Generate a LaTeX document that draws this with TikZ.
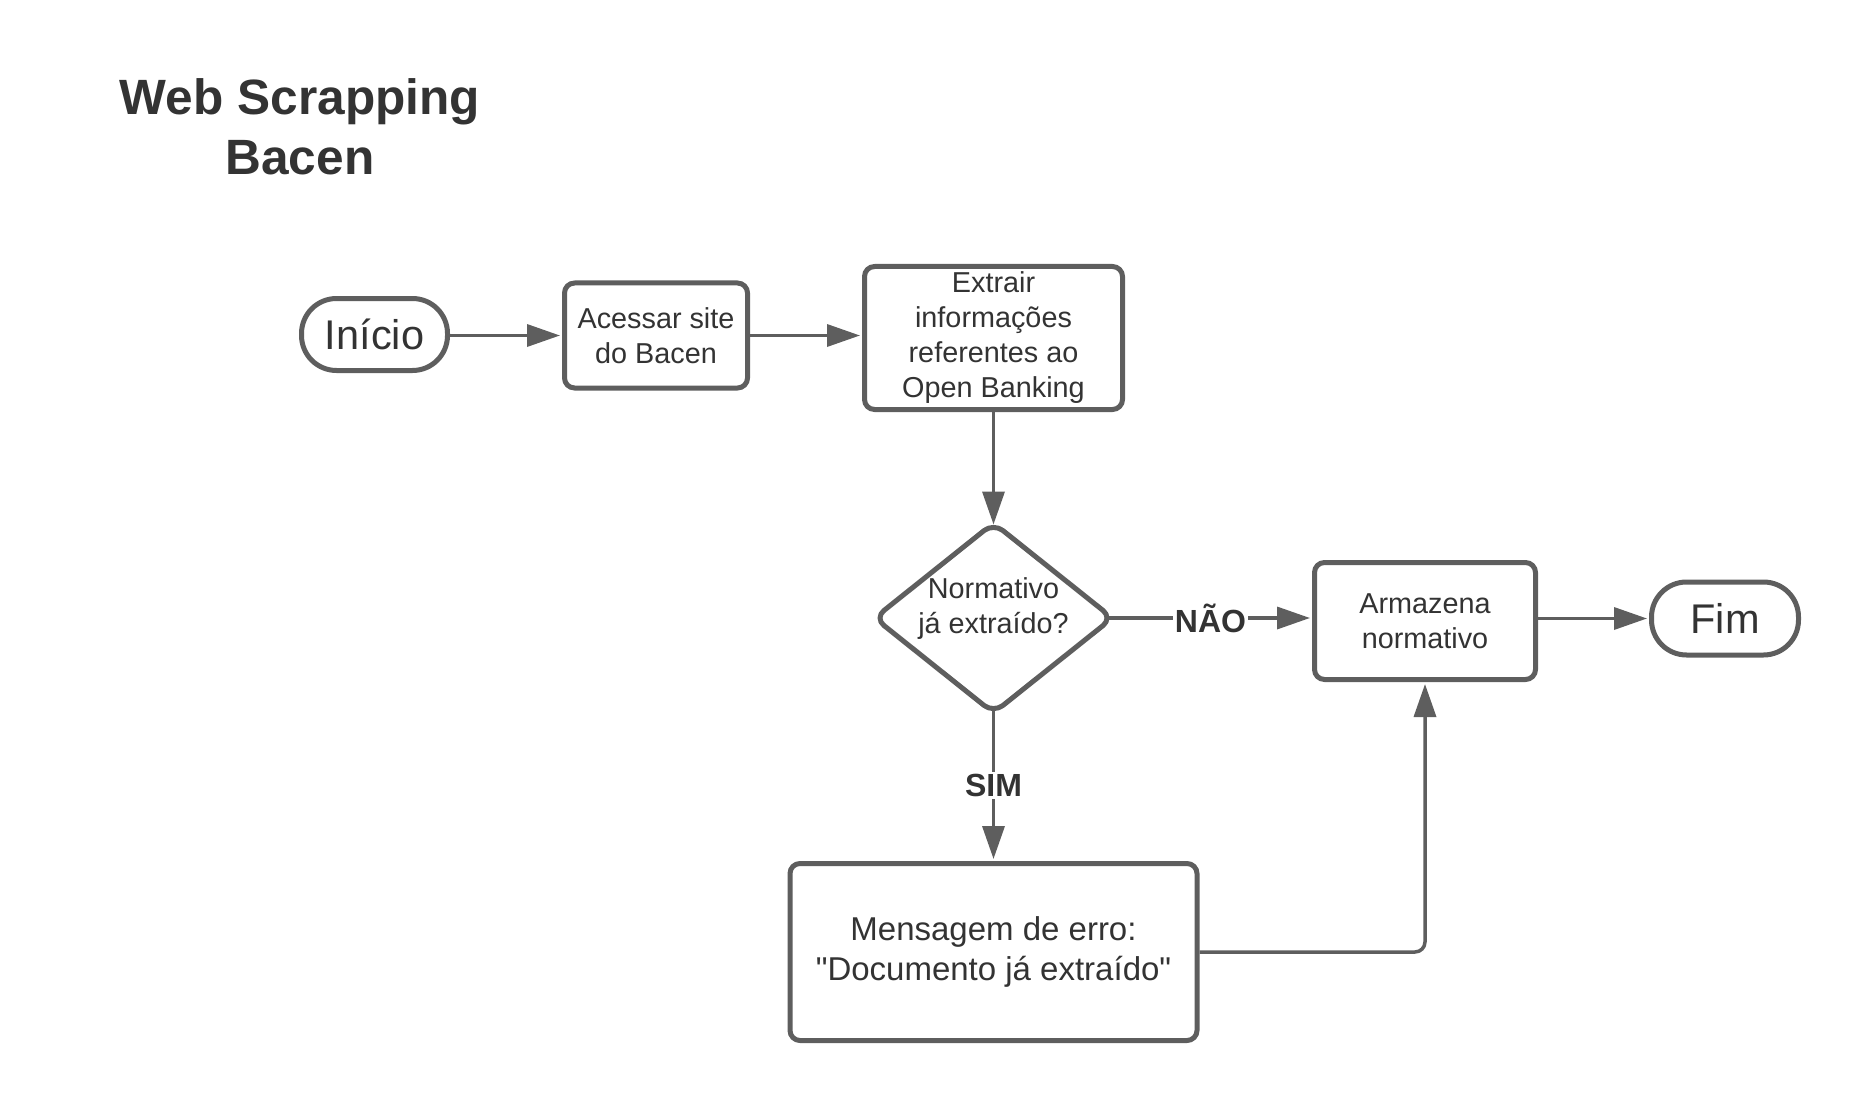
\documentclass[tikz,border=0pt]{standalone}
\usepackage{fontspec}
\setmainfont{Liberation Sans}
\usetikzlibrary{shapes.geometric,arrows.meta}
\definecolor{linha}{HTML}{5E5E5E}
\definecolor{texto}{HTML}{333333}

\begin{document}
\begin{tikzpicture}[x=1pt,y=-1pt,line join=round,>={Triangle[length=33pt,width=22pt]},
	caixa/.style={draw=linha,line width=5pt,rounded corners=10pt,fill=white,inner sep=0pt,align=center,text=texto,font=\fontsize{28.8}{35}\selectfont},
	terminal/.style={caixa,rounded corners=35pt,font=\fontsize{41.5}{48}\selectfont},
	decisao/.style={caixa,diamond,rounded corners=12pt},
	seta/.style={draw=linha,line width=3.5pt,->,shorten >=2pt},
	rotulo/.style={fill=white,text=texto,inner sep=2pt,font=\bfseries\fontsize{32}{38}\selectfont}]
	\useasboundingbox (0,0) rectangle (1875,1118);
	% titulo
	\node[align=center,text=texto,font=\bfseries\fontsize{49.6}{60}\selectfont] (titulo) at (300,127) {Web Scrapping\\Bacen};
	% fluxo
	\node[terminal,minimum width=146pt,minimum height=72pt] (inicio) at (374.5,334.5) {Início};
	\node[caixa,minimum width=183pt,minimum height=105pt] (acessar) at (656,335.5) {Acessar site\\do Bacen};
	\node[caixa,minimum width=258pt,minimum height=143pt] (extrair) at (993.5,338) {Extrair\\informações\\referentes ao\\Open Banking};
	\node[decisao,minimum width=240pt,minimum height=192pt,
		label={[align=center,text=texto,font=\fontsize{28.8}{35}\selectfont,yshift=9pt]center:Normativo\\já extraído?}] (decisao) at (993.5,618) {};
	\node[caixa,minimum width=221pt,minimum height=117pt] (armazena) at (1425,621) {Armazena\\normativo};
	\node[terminal,minimum width=147pt,minimum height=73pt] (fim) at (1725,618.5) {Fim};
	\node[caixa,minimum width=407pt,minimum height=177pt,font=\fontsize{33}{39.5}\selectfont] (erro) at (993.5,952) {Mensagem de erro:\\\textquotedbl Documento já extraído\textquotedbl};
	\draw[seta] (acessar.west -| inicio.east) -- (acessar.west);
	\draw[seta] (acessar.east) -- (acessar.east -| extrair.west);
	\draw[seta] (extrair) -- ([yshift=-7pt]decisao.north);
	\draw[seta] ([xshift=-7pt]decisao.east) -- node[rotulo]{NÃO} (armazena.west |- decisao.east);
	\draw[seta] ([yshift=7pt]decisao.south) -- node[rotulo]{SIM} (erro);
	\draw[seta,rounded corners=10pt] (erro) -| (armazena);
	\draw[seta] (armazena.east |- fim.west) -- (fim);
\end{tikzpicture}
\end{document}
